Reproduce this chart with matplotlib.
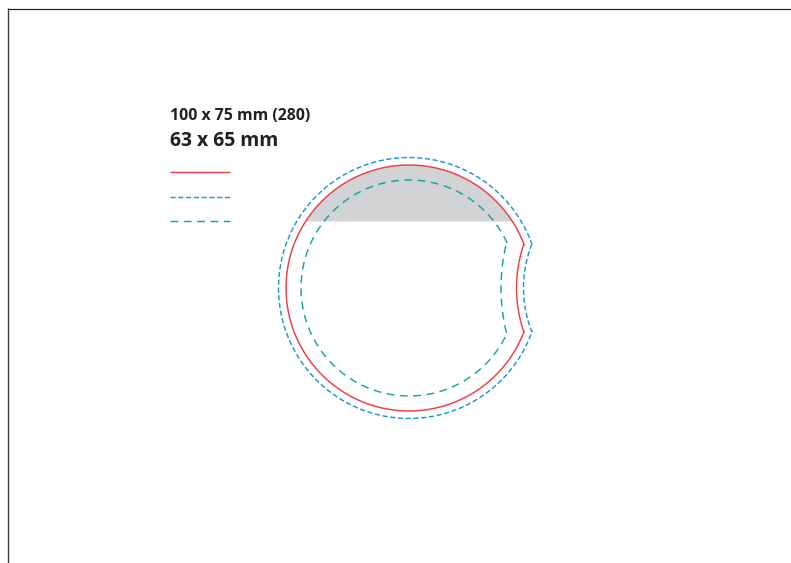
import numpy as np
import matplotlib
matplotlib.use("Agg")
import matplotlib.pyplot as plt
from matplotlib.patches import Polygon

plt.rcParams["lines.scale_dashes"] = False

W, H = 791, 563
title_labels = ["100 x 75 mm (280)", "63 x 65 mm"]
center = [409, 288]
# outline: radius, cusp x, cusp half-height, notch mid x
red_outline = [123, 523.5, 43, 516.5]
blue_outline = [130.5, 531.5, 43, 523.5]
green_outline = [108, 506.5, 45, 501]
grey_top_y = 221.5
legend_y = [172, 197, 221]
legend_x = [170, 230]
RED, BLUE, GREEN, GREY = "#EE3E48", "#1C95D3", "#12A98C", "#D1D3D4"
BLUE_DASH = (3.7, 1.9)
GREEN_DASH = (5.6, 4.0)


def outline(r, cx, hh, mx, n=360):
    x0, y0 = center
    a0 = np.arcsin(hh / r)
    t = np.linspace(a0, 2 * np.pi - a0, n)
    xs, ys = x0 + r * np.cos(t), y0 - r * np.sin(t)
    # notch arc through the two cusps and the mid point, running lower to upper
    s = cx - mx
    R = (hh ** 2 + s ** 2) / (2 * s)
    ccx = mx + R
    a = np.arcsin(hh / R)
    u = np.linspace(a, -a, 60)
    nx = ccx - R * np.cos(u)
    ny = y0 + R * np.sin(u)
    return np.r_[xs, nx], np.r_[ys, ny]


fig = plt.figure(figsize=(W / 100, H / 100), dpi=100)
ax = fig.add_axes([0, 0, 1, 1])
ax.set_xlim(0, W)
ax.set_ylim(H, 0)
ax.axis("off")

# frame
ax.plot([8, 8], [8, H], color="#3a3a3a", lw=1.0, solid_capstyle="butt")
ax.plot([7.5, W], [8.5, 8.5], color="#1f1f1f", lw=0.85, solid_capstyle="butt")

# grey segment of the red circle
r = red_outline[0]
half = np.sqrt(r ** 2 - (center[1] - grey_top_y) ** 2)
a = np.arctan2(center[1] - grey_top_y, half)
t = np.linspace(a, np.pi - a, 120)
ax.add_patch(Polygon(np.c_[center[0] + r * np.cos(t), center[1] - r * np.sin(t)],
                     closed=True, fc=GREY, ec="none"))

lw = 1.05
ax.plot(*outline(*red_outline), color=RED, lw=lw, solid_joinstyle="miter")
ax.plot(*outline(*blue_outline), color=BLUE, lw=lw, dashes=BLUE_DASH, dash_capstyle="butt")
ax.plot(*outline(*green_outline), color=GREEN, lw=lw, dashes=GREEN_DASH, dash_capstyle="butt")

# legend lines
ax.plot(legend_x, [legend_y[0]] * 2, color=RED, lw=lw, solid_capstyle="butt")
ax.plot(legend_x, [legend_y[1]] * 2, color=BLUE, lw=lw, dashes=BLUE_DASH, dash_capstyle="butt")
ax.plot(legend_x, [legend_y[2]] * 2, color=GREEN, lw=lw, dashes=GREEN_DASH, dash_capstyle="butt")

ax.text(170, 120, title_labels[0], family="Open Sans", weight="bold", fontsize=11.45,
        color="#231F20", va="baseline", ha="left")
ax.text(170, 145.5, title_labels[1], family="Open Sans", weight="bold", fontsize=13.95,
        color="#231F20", va="baseline", ha="left")

fig.savefig("out.png", dpi=100)
